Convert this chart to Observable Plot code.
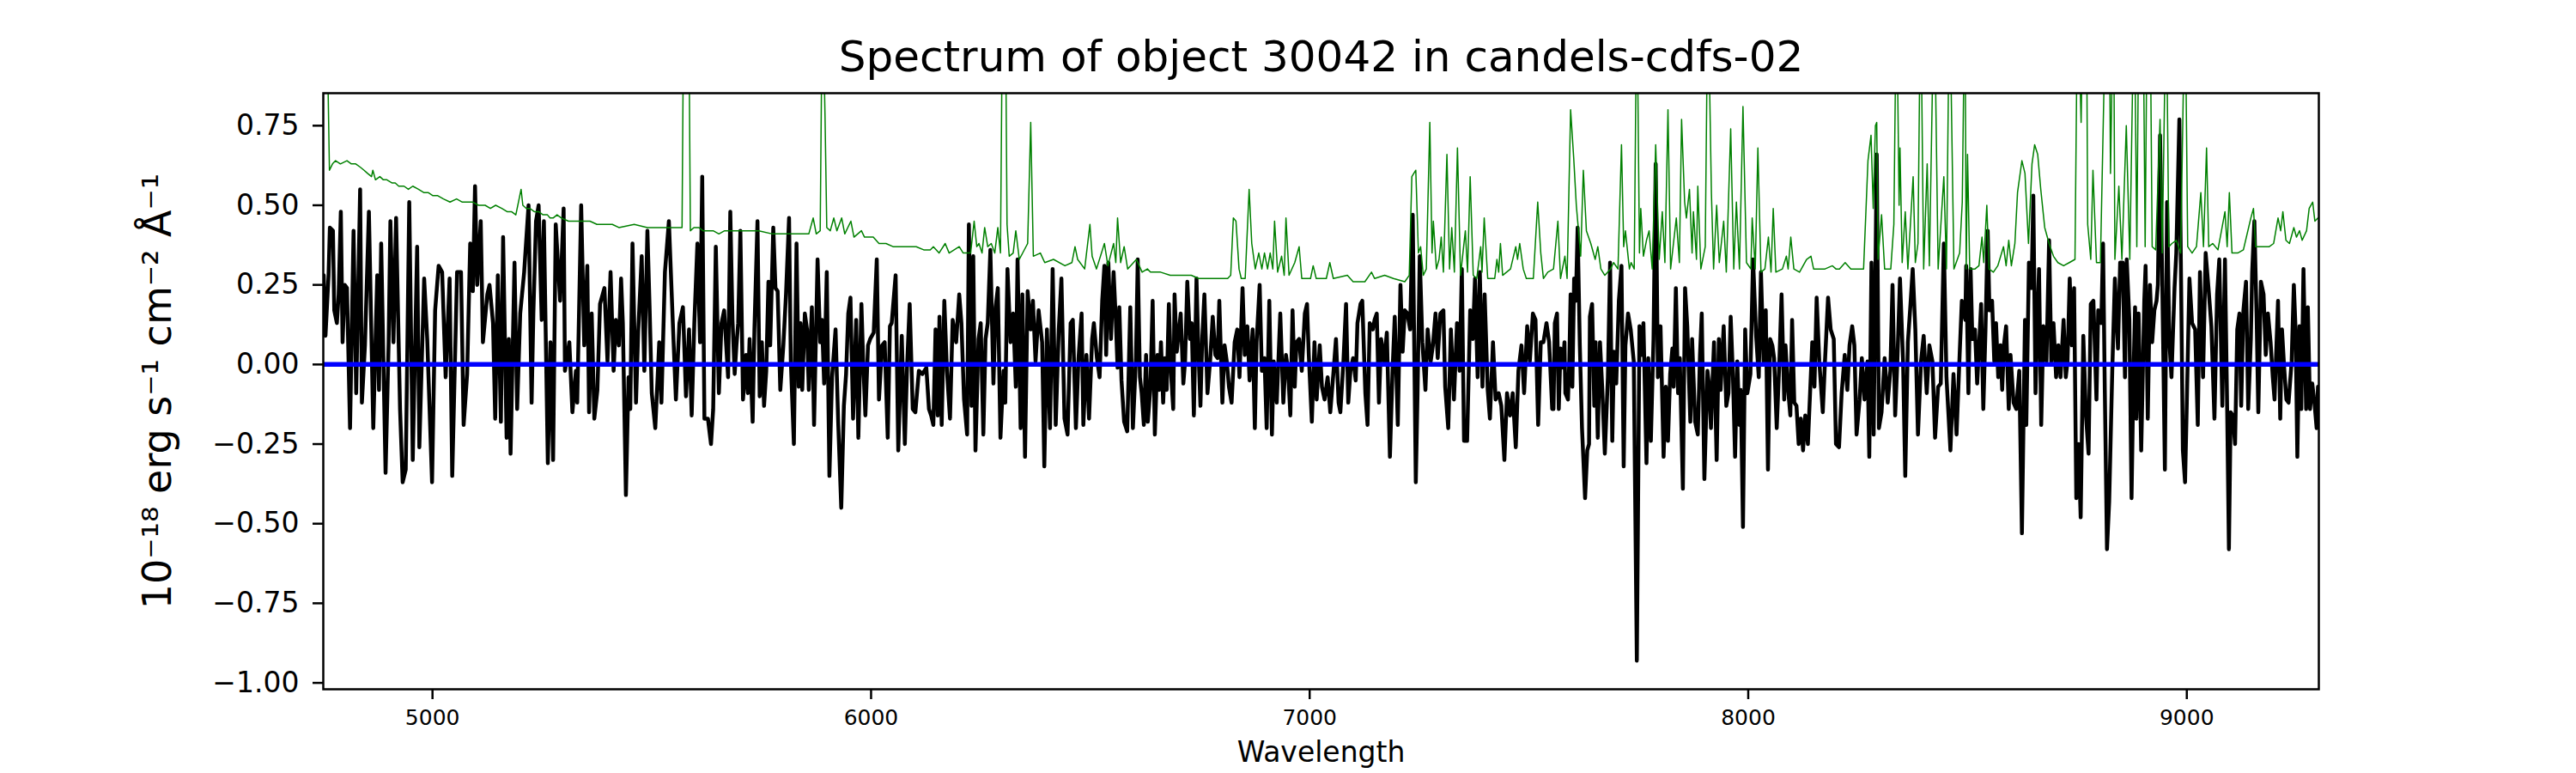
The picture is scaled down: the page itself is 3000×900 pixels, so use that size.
<!DOCTYPE html>
<html><head><meta charset="utf-8">
<script src="https://cdn.jsdelivr.net/npm/d3@7"></script>
<script src="https://cdn.jsdelivr.net/npm/@observablehq/plot@0.6"></script>
<style>html,body{margin:0;padding:0;background:#fff;} #chart svg{display:block;}</style>
</head><body><div id="chart"></div>
<script>
const title = "Spectrum of object 30042 in candels-cdfs-02";
const yLabel = "10⁻¹⁸ erg s⁻¹ cm⁻² Å⁻¹";
const xLabel = "Wavelength";
const xTicks = [5000, 6000, 7000, 8000, 9000];
const yTicks = [-1, -0.75, -0.5, -0.25, 0, 0.25, 0.5, 0.75];
const xDomain = [4751, 9301];
const yDomain = [-1.02, 0.852];
const zeroLevel = [0];

// [wavelength, flux] of the object spectrum
const flux = [
[4752,0.28],[4756,0.09],[4763,0.28],[4766,0.43],[4773,0.42],[4776,0.17],[4782,0.13],[4786,0.22],[4791,0.48],[4795,0.07],[4800,0.25],[4805,0.24],[4812,-0.20],[4820,0.42],[4826,-0.09],[4835,0.55],[4839,-0.12],[4846,0.06],[4855,0.48],[4865,-0.20],[4874,0.28],[4878,-0.08],[4883,0.38],[4893,-0.34],[4900,0.07],[4904,0.45],[4911,0.07],[4917,0.46],[4926,-0.14],[4932,-0.37],[4939,-0.33],[4947,0.51],[4955,-0.30],[4965,0.37],[4970,-0.26],[4981,0.27],[4988,0.08],[4999,-0.37],[5006,0.17],[5014,0.31],[5022,0.29],[5030,-0.04],[5039,0.27],[5045,-0.35],[5056,0.29],[5065,0.29],[5071,-0.19],[5079,-0.03],[5086,0.38],[5092,0.23],[5097,0.56],[5102,0.25],[5110,0.45],[5115,0.07],[5125,0.22],[5130,0.25],[5138,0.13],[5143,-0.17],[5149,0.28],[5156,-0.18],[5161,0.40],[5169,-0.23],[5174,0.08],[5178,-0.28],[5187,0.32],[5193,-0.14],[5200,0.16],[5209,0.29],[5219,0.50],[5226,-0.12],[5230,0.16],[5236,0.45],[5242,0.50],[5249,0.14],[5254,0.45],[5263,-0.31],[5269,0.07],[5275,-0.30],[5281,0.44],[5291,0.20],[5299,0.49],[5302,-0.02],[5312,0.07],[5319,-0.15],[5327,-0.02],[5330,-0.12],[5339,0.50],[5346,0.06],[5353,0.31],[5357,-0.15],[5363,0.16],[5369,-0.17],[5376,-0.08],[5382,0.19],[5392,0.24],[5399,0.01],[5406,0.29],[5413,-0.02],[5418,0.14],[5425,0.06],[5430,0.27],[5434,0.13],[5441,-0.41],[5447,-0.04],[5451,-0.14],[5456,0.38],[5464,-0.12],[5469,0.10],[5477,0.34],[5483,-0.02],[5490,0.42],[5495,0.18],[5500,-0.09],[5508,-0.20],[5517,0.07],[5522,-0.12],[5530,0.29],[5539,0.45],[5548,0.13],[5555,-0.11],[5563,0.13],[5571,0.18],[5578,-0.10],[5585,0.11],[5591,-0.16],[5597,0.13],[5604,0.38],[5610,0.07],[5615,0.59],[5620,-0.17],[5628,-0.17],[5635,-0.25],[5640,-0.14],[5646,0.37],[5653,-0.09],[5659,0.13],[5665,0.17],[5674,-0.04],
[5679,0.48],[5684,0.14],[5689,-0.03],[5693,0.06],[5697,0.13],[5702,0.42],[5708,-0.11],[5715,0.03],[5719,-0.09],[5723,0.08],[5730,-0.18],[5734,0.11],[5741,0.45],[5746,-0.10],[5751,0.07],[5756,-0.13],[5761,-0.02],[5766,0.26],[5770,0.06],[5777,0.43],[5782,0.24],[5787,0.23],[5793,-0.08],[5800,0.06],[5806,0.22],[5813,0.46],[5817,0.01],[5824,-0.25],[5830,0.38],[5835,-0.07],[5839,0.13],[5843,-0.08],[5849,0.16],[5854,0.11],[5858,-0.08],[5865,0.18],[5870,-0.19],[5878,0.33],[5884,0.07],[5888,0.14],[5893,-0.06],[5899,0.29],[5905,-0.35],[5911,-0.04],[5919,0.11],[5925,-0.18],[5932,-0.45],[5938,-0.13],[5943,-0.03],[5948,0.16],[5953,0.21],[5959,-0.17],[5966,0.14],[5971,-0.23],[5978,0.19],[5982,0.01],[5987,-0.16],[5993,0.06],[5998,0.08],[6006,0.10],[6013,0.33],[6018,-0.11],[6025,0.06],[6031,0.07],[6038,-0.23],[6043,0.12],[6047,0.13],[6056,0.28],[6062,-0.27],[6070,0.09],[6077,-0.25],[6082,-0.01],[6088,0.19],[6095,-0.14],[6101,-0.15],[6109,-0.02],[6117,-0.03],[6126,-0.01],[6132,-0.14],[6137,-0.16],[6142,-0.19],[6147,0.11],[6152,-0.16],[6156,0.15],[6161,-0.19],[6167,0.20],[6173,-0.02],[6180,-0.17],[6186,0.14],[6194,0.07],[6201,0.22],[6206,0.13],[6212,-0.11],[6219,-0.22],[6223,0.44],[6229,-0.13],[6233,0.34],[6238,-0.27],[6245,0.08],[6250,0.13],[6256,-0.22],[6261,0.08],[6266,0.13],[6272,0.36],[6279,-0.06],[6284,0.18],[6289,0.24],[6295,-0.23],[6302,-0.02],[6306,-0.12],[6311,0.30],[6318,0.07],[6324,0.16],[6330,-0.07],[6334,0.33],[6341,-0.20],[6345,0.22],[6351,-0.29],[6357,0.23],[6364,0.11],[6369,0.20],[6375,0.01],[6382,0.17],[6390,0.07],[6395,-0.32],[6401,0.11],[6408,-0.20],[6414,0.30],[6421,-0.19],[6428,0.11],[6434,0.27],[6441,-0.17],[6448,-0.22],[6455,0.13],[6460,0.14],[6467,-0.20],[6473,0.02],[6480,0.16],[6484,-0.19],[6491,0.03],[6497,-0.17],[6504,0.08],[6508,0.13],[6515,0.02],[6521,-0.04],[6527,0.20],[6532,0.31],[6536,0.03],[6541,0.32],[6547,0.08],[6553,0.29],[6558,0.14],[6562,-0.01],[6566,0.18],[6571,-0.05],[6577,-0.18],[6584,-0.21],[6591,0.18],[6597,-0.20],[6604,0.02],[6608,0.33],[6613,-0.04],
[6617,-0.09],[6622,-0.19],[6627,0.03],[6631,-0.18],[6637,-0.07],[6642,0.20],[6647,-0.22],[6653,0.03],[6657,-0.08],[6661,0.07],[6666,-0.12],[6670,0.02],[6674,-0.08],[6679,0.19],[6684,-0.03],[6689,-0.14],[6692,0.22],[6697,0.04],[6700,0.08],[6706,0.16],[6712,-0.06],[6716,0.01],[6721,0.26],[6727,0.08],[6731,0.13],[6736,-0.16],[6742,0.27],[6746,0.06],[6751,-0.13],[6755,0.08],[6760,0.22],[6767,-0.09],[6773,0.01],[6779,0.15],[6785,0.03],[6790,0.02],[6794,0.20],[6801,-0.12],[6806,0.06],[6811,0.01],[6816,-0.07],[6822,-0.12],[6829,0.07],[6835,0.11],[6840,-0.04],[6847,0.24],[6852,0.03],[6858,0.12],[6863,-0.05],[6870,0.11],[6875,-0.20],[6879,0.07],[6886,0.25],[6891,-0.02],[6897,0.02],[6902,-0.20],[6908,0.20],[6914,-0.22],[6918,0.01],[6925,-0.12],[6933,0.16],[6940,-0.12],[6946,0.03],[6951,-0.02],[6956,-0.16],[6961,0.17],[6966,-0.07],[6970,0.07],[6976,0.08],[6982,-0.02],[6989,0.16],[6994,0.19],[6998,0.03],[7005,-0.18],[7011,0.07],[7016,-0.11],[7023,0.06],[7028,-0.07],[7034,-0.11],[7041,-0.04],[7047,-0.15],[7054,-0.03],[7060,0.08],[7066,-0.12],[7070,-0.15],[7077,0.01],[7083,0.19],[7088,-0.12],[7093,-0.02],[7099,0.02],[7105,-0.05],[7109,0.13],[7116,0.19],[7120,0.20],[7127,-0.09],[7132,-0.19],[7137,0.13],[7144,0.11],[7148,0.14],[7153,0.16],[7158,-0.12],[7163,0.08],[7170,0.01],[7176,0.10],[7183,-0.29],[7189,-0.02],[7194,0.15],[7201,-0.19],[7207,0.25],[7212,0.04],[7217,0.17],[7223,0.16],[7229,0.11],[7235,0.47],[7242,-0.37],[7246,-0.09],[7251,0.34],[7257,0.07],[7264,-0.08],[7269,0.11],[7276,0.01],[7281,0.06],[7287,0.16],[7292,0.02],[7298,0.16],[7305,0.17],[7309,-0.07],[7316,-0.20],[7322,0.11],[7329,-0.11],[7336,0.13],[7342,-0.02],[7347,0.30],[7352,-0.24],[7359,-0.24],[7366,0.17],[7372,0.08],[7377,0.27],[7383,-0.04],[7388,0.29],[7394,-0.07],[7399,0.22],[7406,-0.08],[7411,-0.17],[7418,0.07],[7424,-0.11],[7431,-0.09],[7437,-0.13],[7444,-0.30],[7450,-0.09],[7457,-0.16],[7463,-0.09],[7470,-0.26],[7476,-0.02],[7483,0.06],[7489,-0.09],[7496,0.12],[7502,0.01],[7509,0.16],[7515,0.14],[7521,-0.19],[7527,0.07],[7533,0.07],[7540,0.13],[7546,0.07],[7553,-0.14],
[7556,-0.14],[7559,0.13],[7564,0.16],[7568,-0.14],[7572,0.05],[7577,-0.01],[7581,0.07],[7583,-0.09],[7589,-0.11],[7592,0.01],[7595,0.22],[7599,-0.07],[7603,0.27],[7607,0.20],[7611,0.43],[7616,0.06],[7621,-0.20],[7628,-0.42],[7633,-0.27],[7637,-0.25],[7639,0.15],[7644,0.19],[7649,-0.13],[7652,0.07],[7657,-0.23],[7662,0.07],[7667,-0.07],[7673,-0.28],[7680,-0.04],[7685,0.32],[7690,-0.24],[7694,0.04],[7699,-0.06],[7705,0.20],[7711,0.31],[7716,-0.32],[7720,0.06],[7726,0.16],[7732,0.11],[7739,0.01],[7746,-0.93],[7752,0.12],[7757,0.03],[7761,0.13],[7768,-0.31],[7772,0.02],[7778,-0.24],[7784,0.08],[7789,0.63],[7794,-0.04],[7800,0.12],[7807,-0.29],[7812,-0.07],[7817,-0.24],[7822,-0.03],[7827,0.05],[7830,-0.07],[7835,0.24],[7840,-0.09],[7844,0.02],[7851,-0.39],[7856,0.24],[7861,0.12],[7868,-0.18],[7872,0.08],[7879,-0.18],[7885,-0.22],[7890,0.03],[7894,0.16],[7900,-0.36],[7907,-0.02],[7911,-0.07],[7915,-0.20],[7918,-0.07],[7922,0.07],[7928,-0.30],[7933,0.08],[7937,-0.08],[7944,0.12],[7950,-0.13],[7955,-0.09],[7960,0.15],[7965,-0.03],[7970,-0.29],[7975,0.01],[7980,-0.19],[7983,-0.08],[7988,-0.51],[7993,0.11],[7998,-0.09],[8005,-0.03],[8011,0.33],[8018,0.09],[8024,-0.04],[8029,0.29],[8035,0.01],[8040,0.17],[8045,-0.33],[8050,0.08],[8055,0.06],[8059,0.02],[8065,-0.20],[8071,0.01],[8076,0.22],[8082,-0.11],[8085,0.06],[8091,-0.08],[8096,-0.16],[8100,0.14],[8105,-0.12],[8110,-0.13],[8115,-0.25],[8120,-0.17],[8125,-0.27],[8130,-0.16],[8136,-0.25],[8141,-0.09],[8146,0.07],[8151,-0.07],[8156,0.21],[8162,0.01],[8170,-0.15],[8175,0.01],[8182,0.21],[8188,0.11],[8195,0.08],[8200,-0.25],[8207,-0.26],[8213,-0.09],[8220,0.03],[8226,-0.08],[8231,0.06],[8237,0.12],[8242,0.06],[8247,-0.22],[8254,-0.11],[8259,0.02],[8265,-0.11],[8272,0.01],[8276,-0.29],[8281,0.32],[8286,-0.22],[8293,0.66],[8298,-0.20],[8304,-0.15],[8311,0.02],[8318,-0.12],[8324,-0.02],[8329,0.25],[8335,-0.16],[8340,0.01],[8346,0.27],[8353,0.01],[8358,-0.35],[8364,0.07],[8370,0.19],[8375,0.30],[8381,0.11],[8387,-0.22],[8394,0.01],[8400,0.09],[8407,-0.09],[8413,0.06],[8420,0.01],[8426,-0.23],[8433,-0.07],[8439,-0.06],[8446,0.38],[8452,-0.04],[8461,-0.27],[8468,-0.03],[8475,-0.22],[8482,0.03],[8487,0.20],[8495,0.14],
[8497,0.31],[8502,-0.09],[8507,0.30],[8511,0.08],[8517,0.11],[8522,-0.06],[8526,0.05],[8531,0.19],[8536,-0.14],[8541,0.11],[8546,0.42],[8550,0.17],[8556,0.20],[8561,0.01],[8565,0.13],[8570,-0.04],[8575,0.06],[8579,-0.08],[8583,0.06],[8588,0.12],[8594,-0.14],[8598,0.03],[8605,-0.12],[8611,-0.14],[8618,-0.02],[8624,-0.53],[8631,0.14],[8634,-0.19],[8640,0.32],[8646,0.24],[8650,0.53],[8655,-0.09],[8659,0.13],[8663,0.30],[8668,-0.19],[8673,0.12],[8680,0.01],[8686,0.39],[8691,0.01],[8696,0.13],[8702,-0.04],[8707,0.06],[8712,-0.04],[8719,0.14],[8724,-0.04],[8728,0.01],[8733,0.27],[8738,0.06],[8743,0.24],[8748,-0.42],[8753,-0.25],[8758,-0.48],[8764,0.09],[8770,-0.16],[8776,-0.28],[8781,0.19],[8787,0.20],[8794,-0.11],[8798,0.17],[8805,0.13],[8809,0.38],[8813,-0.08],[8818,-0.58],[8823,-0.43],[8830,-0.02],[8836,0.27],[8843,0.05],[8848,0.32],[8854,0.32],[8859,-0.04],[8863,0.33],[8869,0.14],[8874,-0.42],[8878,-0.06],[8882,0.18],[8885,-0.17],[8890,0.16],[8896,-0.27],[8903,0.20],[8906,0.31],[8911,-0.17],[8916,0.25],[8921,0.07],[8926,0.17],[8931,0.20],[8934,0.25],[8939,0.72],[8946,0.07],[8950,-0.33],[8955,0.51],[8960,0.08],[8965,-0.04],[8972,0.24],[8976,0.35],[8983,0.77],[8987,0.25],[8991,-0.27],[8996,-0.37],[9000,-0.12],[9006,0.27],[9012,0.13],[9019,0.11],[9025,-0.19],[9030,0.29],[9037,-0.04],[9043,0.35],[9050,0.23],[9056,0.12],[9063,-0.17],[9069,0.22],[9074,0.33],[9081,-0.13],[9087,0.33],[9092,-0.14],[9096,-0.58],[9100,-0.15],[9105,-0.16],[9110,-0.25],[9115,0.11],[9120,0.16],[9124,-0.13],[9129,0.17],[9135,0.26],[9140,-0.14],[9146,0.08],[9149,0.29],[9154,0.45],[9159,0.16],[9163,-0.15],[9169,0.26],[9175,0.22],[9180,0.03],[9185,0.16],[9191,0.07],[9196,-0.04],[9200,-0.11],[9208,0.20],[9213,-0.17],[9217,0.11],[9222,-0.01],[9227,-0.11],[9232,-0.12],[9239,0.01],[9244,0.25],[9248,0.11],[9252,-0.29],[9257,0.12],[9261,-0.14],[9266,0.30],[9272,-0.14],[9276,0.18],[9281,-0.14],[9286,-0.06],[9291,-0.12],[9296,-0.20],[9299,-0.07]
];

// [wavelength, noise/sky level]; values above the frame are clipped
const sky = [
[4752,1.2],[4758,1.2],[4765,0.61],[4772,0.63],[4779,0.64],[4790,0.63],[4805,0.64],[4815,0.63],[4825,0.63],[4835,0.62],[4844,0.61],[4852,0.60],[4861,0.59],[4864,0.61],[4870,0.58],[4880,0.59],[4888,0.58],[4896,0.58],[4908,0.57],[4915,0.57],[4923,0.56],[4935,0.56],[4945,0.55],[4955,0.56],[4968,0.55],[4980,0.54],[4990,0.54],[5001,0.53],[5012,0.53],[5025,0.52],[5040,0.51],[5055,0.52],[5068,0.51],[5079,0.51],[5092,0.51],[5105,0.50],[5120,0.50],[5132,0.49],[5144,0.50],[5158,0.49],[5170,0.48],[5180,0.48],[5190,0.47],[5196,0.51],[5202,0.55],[5206,0.50],[5214,0.49],[5222,0.49],[5232,0.48],[5242,0.48],[5252,0.47],[5262,0.47],[5268,0.46],[5275,0.46],[5284,0.47],[5294,0.46],[5310,0.45],[5327,0.45],[5342,0.45],[5359,0.45],[5375,0.44],[5392,0.44],[5410,0.44],[5425,0.43],[5460,0.44],[5490,0.43],[5512,0.43],[5535,0.43],[5552,0.43],[5569,0.43],[5573,1.2],[5584,1.2],[5588,0.42],[5596,0.43],[5607,0.43],[5617,0.42],[5627,0.42],[5640,0.42],[5653,0.41],[5666,0.42],[5679,0.42],[5710,0.42],[5744,0.42],[5775,0.41],[5809,0.41],[5835,0.41],[5858,0.41],[5868,0.46],[5875,0.41],[5884,0.42],[5889,1.2],[5895,0.78],[5899,0.43],[5907,0.42],[5915,0.46],[5922,0.42],[5933,0.46],[5940,0.41],[5954,0.45],[5961,0.40],[5978,0.42],[5985,0.40],[6005,0.40],[6018,0.38],[6034,0.38],[6050,0.37],[6070,0.37],[6085,0.37],[6103,0.37],[6120,0.36],[6135,0.36],[6142,0.37],[6155,0.35],[6169,0.38],[6178,0.35],[6201,0.37],[6210,0.35],[6227,0.35],[6235,0.45],[6241,0.37],[6246,0.38],[6253,0.35],[6259,0.43],[6266,0.37],[6274,0.38],[6282,0.35],[6289,0.43],[6295,0.35],[6300,1.2],[6306,1.2],[6310,0.44],[6315,0.34],[6324,0.35],[6330,0.42],[6338,0.33],[6357,0.38],[6364,0.76],[6370,0.34],[6386,0.35],[6396,0.32],[6416,0.33],[6442,0.31],[6458,0.32],[6465,0.37],[6471,0.33],[6487,0.30],[6499,0.44],[6504,0.34],[6514,0.30],[6532,0.38],[6540,0.31],[6553,0.38],[6558,0.32],[6562,0.46],[6569,0.32],[6577,0.37],[6585,0.30],[6605,0.33],[6618,0.29],[6630,0.30],[6637,0.29],[6660,0.29],[6682,0.28],[6700,0.28],[6715,0.28],[6730,0.28],[6747,0.27],[6780,0.27],[6813,0.27],[6820,0.28],[6826,0.46],[6832,0.45],[6839,0.30],[6844,0.27],[6853,0.27],[6862,0.55],[6868,0.38],[6876,0.30],[6884,0.35],[6891,0.30],[6897,0.35],[6904,0.30],[6910,0.35],[6916,0.30],[6920,0.45],[6927,0.29],[6936,0.34],[6942,0.28],[6946,0.46],[6953,0.28],[6966,0.32],[6976,0.37],[6982,0.27],[7002,0.27],[7008,0.31],[7015,0.27],[7038,0.27],[7046,0.32],[7054,0.27],[7086,0.28],[7099,0.26],[7126,0.26],[7141,0.29],[7148,0.27],[7171,0.28],[7191,0.27],[7217,0.26],[7227,0.28],[7233,0.59],[7242,0.61],[7248,0.35],[7253,0.37],[7259,0.28],[7266,0.30],[7274,0.76],[7279,0.35],[7282,0.45],[7289,0.30],[7295,0.33],[7300,0.40],[7305,0.29],[7313,0.66],[7319,0.30],[7324,0.43],[7330,0.29],[7337,0.68],[7344,0.28],[7355,0.42],[7360,0.29],[7366,0.59],[7373,0.28],[7381,0.27],[7390,0.37],[7393,0.29],[7398,0.46],[7406,0.27],[7422,0.27],[7427,0.33],[7431,0.29],[7435,0.38],[7440,0.28],[7458,0.30],[7470,0.37],[7474,0.33],[7479,0.38],[7487,0.30],[7494,0.27],[7510,0.27],[7520,0.51],[7527,0.35],[7533,0.27],[7543,0.29],[7556,0.30],
[7566,0.45],[7572,0.27],[7582,0.34],[7587,0.27],[7595,0.80],[7602,0.65],[7608,0.50],[7618,0.34],[7624,0.61],[7631,0.42],[7641,0.38],[7651,0.33],[7657,0.37],[7664,0.30],[7673,0.28],[7686,0.30],[7693,0.32],[7703,0.30],[7711,0.69],[7716,0.37],[7720,0.42],[7729,0.30],[7733,0.32],[7740,0.30],[7746,1.2],[7752,0.35],[7755,0.49],[7761,0.34],[7768,0.39],[7774,0.42],[7781,0.30],[7789,0.69],[7797,0.33],[7804,0.48],[7810,0.32],[7817,0.80],[7823,0.30],[7836,0.46],[7843,0.32],[7848,0.77],[7855,0.51],[7859,0.46],[7866,0.55],[7872,0.35],[7875,0.48],[7882,0.33],[7885,0.56],[7892,0.30],[7902,0.37],[7908,1.2],[7916,0.54],[7921,0.30],[7928,0.50],[7934,0.32],[7944,0.45],[7950,0.29],[7960,0.74],[7967,0.30],[7973,0.51],[7980,0.30],[7988,0.81],[7996,0.32],[8006,0.30],[8009,0.46],[8016,0.30],[8022,0.68],[8029,0.29],[8038,0.30],[8046,0.40],[8052,0.29],[8057,0.49],[8063,0.29],[8078,0.30],[8087,0.34],[8091,0.30],[8097,0.40],[8104,0.30],[8117,0.29],[8133,0.33],[8143,0.34],[8149,0.30],[8162,0.30],[8175,0.30],[8192,0.31],[8200,0.30],[8208,0.30],[8221,0.32],[8234,0.30],[8247,0.30],[8263,0.30],[8273,0.64],[8280,0.72],[8285,0.49],[8290,0.75],[8293,0.76],[8296,0.33],[8304,0.47],[8311,0.30],[8325,0.30],[8332,0.44],[8338,1.2],[8344,0.50],[8346,0.68],[8351,0.32],[8358,0.48],[8364,0.30],[8376,0.59],[8381,0.32],[8387,0.38],[8393,1.2],[8400,0.30],[8408,0.63],[8413,0.31],[8424,1.2],[8433,0.30],[8446,0.59],[8452,0.30],[8459,1.2],[8469,0.30],[8482,0.35],[8488,0.51],[8494,1.2],
[8497,0.30],[8500,0.66],[8505,0.30],[8517,0.30],[8526,0.31],[8533,0.40],[8537,0.32],[8544,0.50],[8549,0.30],[8559,0.29],[8569,0.31],[8582,0.37],[8588,0.31],[8594,0.39],[8600,0.31],[8608,0.38],[8614,0.54],[8624,0.64],[8631,0.60],[8639,0.38],[8647,0.63],[8653,0.69],[8660,0.66],[8667,0.55],[8676,0.43],[8686,0.38],[8696,0.34],[8706,0.32],[8719,0.31],[8732,0.32],[8745,0.33],[8751,1.2],[8759,0.76],[8764,1.2],[8771,1.2],[8774,0.44],[8781,0.33],[8786,0.61],[8794,0.32],[8803,0.32],[8816,1.2],[8823,1.2],[8826,0.60],[8833,1.2],[8836,0.33],[8845,0.56],[8852,0.33],[8862,0.75],[8870,0.33],[8880,1.2],[8886,0.37],[8891,1.2],[8900,1.2],[8905,0.37],[8910,1.2],[8916,1.2],[8921,0.37],[8929,0.36],[8939,0.77],[8944,0.35],[8953,1.2],[8959,0.37],[8966,0.38],[8976,0.39],[8986,0.35],[8996,1.2],[9002,0.37],[9012,0.35],[9022,0.37],[9032,0.54],[9038,0.37],[9045,0.68],[9050,0.37],[9059,0.38],[9071,0.36],[9087,0.48],[9092,0.37],[9097,0.54],[9103,0.35],[9116,0.35],[9129,0.36],[9146,0.46],[9152,0.49],[9157,0.37],[9175,0.37],[9188,0.37],[9198,0.38],[9208,0.46],[9214,0.42],[9219,0.48],[9226,0.39],[9234,0.38],[9244,0.43],[9250,0.40],[9257,0.42],[9263,0.39],[9273,0.42],[9279,0.49],[9287,0.51],[9292,0.45],[9299,0.46]
];

const fluxRows = flux.map(([w, v]) => ({w, v}));
const skyRows = sky.map(([w, v]) => ({w, v}));

const chart = Plot.plot({
  width: 3000,
  height: 900,
  marginLeft: 376,
  marginRight: 300,
  marginTop: 108,
  marginBottom: 98,
  style: {fontFamily: "DejaVu Sans", color: "black", background: "white", overflow: "visible"},
  x: {domain: xDomain},
  y: {domain: yDomain},
  marks: [
    Plot.line(fluxRows, {x: "w", y: "v", stroke: "black", strokeWidth: 4.5, clip: true}),
    Plot.line(skyRows, {x: "w", y: "v", stroke: "#008000", strokeWidth: 1.5, clip: true}),
    Plot.ruleY(zeroLevel, {stroke: "#0000ff", strokeWidth: 5.5}),
    Plot.frame({stroke: "black", strokeWidth: 2.5}),
    Plot.axisY({ticks: yTicks, tickFormat: d3.format(".2f"), tickSize: 12, tickPadding: 16, fontSize: 33, strokeWidth: 2.5, label: null}),
    Plot.axisX({ticks: xTicks, tickFormat: d => String(d), tickSize: 12, tickPadding: 12, fontSize: 25, strokeWidth: 2.5, label: null}),
    Plot.text([title], {text: d => d, frameAnchor: "top", lineAnchor: "middle", dy: -42, fontSize: 50, fill: "black"}),
    Plot.text([yLabel], {text: d => d, frameAnchor: "left", textAnchor: "middle", lineAnchor: "middle", dx: -192, rotate: -90, fontSize: 46, fill: "black"}),
    Plot.text([xLabel], {text: d => d, frameAnchor: "bottom", lineAnchor: "middle", dy: 74, fontSize: 33, fill: "black"})
  ]
});
document.getElementById("chart").appendChild(chart);
</script>
</body></html>
